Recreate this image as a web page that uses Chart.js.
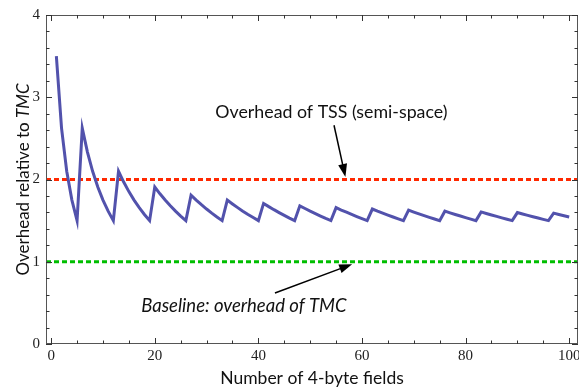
<!DOCTYPE html>
<html>
<head>
<meta charset="utf-8">
<script src="https://cdn.jsdelivr.net/npm/chart.js@4"></script>
<style>
  html, body { margin: 0; padding: 0; background: #fff; }
  #wrap { width: 579px; height: 389px; }
</style>
</head>
<body>
<div id="wrap"><canvas id="overhead-chart" width="579" height="389"></canvas></div>
<script>
// overhead relative to TMC for objects with 1..100 four-byte fields
const overhead = [
    3.5, 2.625, 2.1, 1.75, 1.5,
    2.625, 2.333, 2.1, 1.909, 1.75, 1.615, 1.5,
    2.1, 1.969, 1.853, 1.75, 1.658, 1.575, 1.5,
    1.909, 1.826, 1.75, 1.68, 1.615, 1.556, 1.5,
    1.81, 1.75, 1.694, 1.641, 1.591, 1.544, 1.5,
    1.75, 1.703, 1.658, 1.615, 1.575, 1.537, 1.5,
    1.709, 1.67, 1.633, 1.598, 1.564, 1.531, 1.5,
    1.68, 1.647, 1.615, 1.585, 1.556, 1.527, 1.5,
    1.658, 1.629, 1.602, 1.575, 1.549, 1.524, 1.5,
    1.641, 1.615, 1.591, 1.567, 1.544, 1.522, 1.5,
    1.627, 1.604, 1.582, 1.561, 1.54, 1.52, 1.5,
    1.615, 1.595, 1.575, 1.556, 1.537, 1.518, 1.5,
    1.606, 1.587, 1.569, 1.551, 1.534, 1.517, 1.5,
    1.598, 1.581, 1.564, 1.547, 1.531, 1.515, 1.5,
    1.591, 1.575, 1.559, 1.544
];
const fields = overhead.map((_, i) => i + 1);

const tssOverhead = 2;   // semi-space copying
const baseline = 1;      // TMC itself

const xTicks = [0, 20, 40, 60, 80, 100];
const yTicks = [0, 1, 2, 3, 4];
const xMinorStep = 5;
const yMinorStep = 0.2;

const X_MIN = -1, X_MAX = 101.7;

const sansFont = "Lato, 'Open Sans', sans-serif";
const serifFont = "'Liberation Serif', 'DejaVu Serif', serif";

function arrow(ctx, x1, y1, x2, y2) {
    const ang = Math.atan2(y2 - y1, x2 - x1);
    const len = 13, half = 4.5;
    ctx.beginPath();
    ctx.moveTo(x1, y1);
    ctx.lineTo(x2 - Math.cos(ang) * len * 0.8, y2 - Math.sin(ang) * len * 0.8);
    ctx.stroke();
    ctx.beginPath();
    ctx.moveTo(x2, y2);
    ctx.lineTo(x2 - Math.cos(ang) * len + Math.sin(ang) * half, y2 - Math.sin(ang) * len - Math.cos(ang) * half);
    ctx.lineTo(x2 - Math.cos(ang) * len - Math.sin(ang) * half, y2 - Math.sin(ang) * len + Math.cos(ang) * half);
    ctx.closePath();
    ctx.fill();
}

// frame with inward ticks on all four sides, axis titles and the two callouts
const framePlugin = {
    id: 'frame',
    afterDraw(chart) {
        const { ctx, chartArea: a, scales: { x, y } } = chart;
        ctx.save();

        ctx.strokeStyle = '#555';
        ctx.lineWidth = 1;
        ctx.strokeRect(a.left + 0.5, a.top + 0.5, a.right - a.left - 1, a.bottom - a.top - 1);

        ctx.strokeStyle = '#333';
        ctx.beginPath();
        for (let v = 0; v <= 100 + 1e-6; v += xMinorStep) {
            const px = Math.round(x.getPixelForValue(v)) + 0.5;
            const len = xTicks.includes(v) ? 6 : 3.5;
            ctx.moveTo(px, a.bottom); ctx.lineTo(px, a.bottom - len);
            ctx.moveTo(px, a.top); ctx.lineTo(px, a.top + len);
        }
        for (let i = 0; i <= 20; i++) {
            const v = i * yMinorStep;
            const py = Math.round(y.getPixelForValue(v)) + 0.5;
            const len = i % 5 === 0 ? 6 : 3.5;
            ctx.moveTo(a.left, py); ctx.lineTo(a.left + len, py);
            ctx.moveTo(a.right, py); ctx.lineTo(a.right - len, py);
        }
        ctx.stroke();

        ctx.fillStyle = '#111';
        ctx.textBaseline = 'alphabetic';

        // x title
        ctx.font = `17.5px ${sansFont}`;
        ctx.textAlign = 'center';
        ctx.fillText('Number of 4-byte fields', (a.left + a.right) / 2, 384);

        // y title, with TMC in italics
        ctx.save();
        ctx.translate(29, (a.top + a.bottom) / 2);
        ctx.rotate(-Math.PI / 2);
        ctx.textAlign = 'left';
        const part1 = 'Overhead relative to ';
        ctx.font = `17px ${sansFont}`;
        const w1 = ctx.measureText(part1).width;
        ctx.font = `italic 17px ${sansFont}`;
        const w2 = ctx.measureText('TMC').width;
        const start = -(w1 + w2) / 2;
        ctx.font = `17px ${sansFont}`;
        ctx.fillText(part1, start, 0);
        ctx.font = `italic 17px ${sansFont}`;
        ctx.fillText('TMC', start + w1, 0);
        ctx.restore();

        // callouts
        ctx.textAlign = 'center';
        ctx.font = `17.8px ${sansFont}`;
        ctx.fillText('Overhead of TSS (semi-space)', x.getPixelForValue(54.1), y.getPixelForValue(2.75));
        ctx.font = `italic 18.5px ${sansFont}`;
        ctx.fillText('Baseline: overhead of TMC', x.getPixelForValue(37.2), y.getPixelForValue(0.39));

        ctx.strokeStyle = '#000';
        ctx.fillStyle = '#000';
        ctx.lineWidth = 1.5;
        arrow(ctx, x.getPixelForValue(54.6), y.getPixelForValue(2.66),
                   x.getPixelForValue(56.8), y.getPixelForValue(2.03));
        arrow(ctx, x.getPixelForValue(43.2), y.getPixelForValue(0.62),
                   x.getPixelForValue(58.1), y.getPixelForValue(0.97));

        ctx.restore();
    }
};

const ctx = document.getElementById('overhead-chart').getContext('2d');
new Chart(ctx, {
    type: 'line',
    data: {
        datasets: [
            {
                label: 'TSS overhead vs TMC',
                data: fields.map((f, i) => ({ x: f, y: overhead[i] })),
                borderColor: 'rgb(82, 82, 172)',
                borderWidth: 3,
                pointRadius: 0,
                tension: 0
            },
            {
                label: 'Overhead of TSS (semi-space)',
                data: [{ x: X_MIN, y: tssOverhead }, { x: X_MAX, y: tssOverhead }],
                borderColor: 'rgb(255, 40, 0)',
                borderWidth: 3,
                borderDash: [5, 3],
                pointRadius: 0
            },
            {
                label: 'Baseline: overhead of TMC',
                data: [{ x: X_MIN, y: baseline }, { x: X_MAX, y: baseline }],
                borderColor: 'rgb(0, 190, 0)',
                borderWidth: 3,
                borderDash: [5, 3],
                pointRadius: 0
            }
        ]
    },
    options: {
        responsive: false,
        animation: false,
        layout: { padding: { left: 0, top: 15, right: 1, bottom: 0 } },
        plugins: {
            legend: { display: false },
            tooltip: { enabled: false }
        },
        scales: {
            x: {
                type: 'linear',
                min: X_MIN,
                max: X_MAX,
                grid: { display: false, drawTicks: false },
                border: { display: false },
                afterBuildTicks: scale => { scale.ticks = xTicks.map(v => ({ value: v })); },
                afterFit: scale => {
                    scale.height = 45;
                    scale.paddingLeft = 0;
                    scale.paddingRight = 0;
                },
                ticks: {
                    autoSkip: false,
                    maxRotation: 0,
                    padding: 3,
                    color: '#222',
                    font: { family: serifFont, size: 15 }
                }
            },
            y: {
                type: 'linear',
                min: 0,
                max: 4,
                grid: { display: false, drawTicks: false },
                border: { display: false },
                afterBuildTicks: scale => { scale.ticks = yTicks.map(v => ({ value: v })); },
                afterFit: scale => {
                    scale.width = 46;
                    scale.paddingTop = 0;
                    scale.paddingBottom = 0;
                },
                ticks: {
                    padding: 6,
                    color: '#222',
                    font: { family: serifFont, size: 15 }
                }
            }
        }
    },
    plugins: [framePlugin]
});
</script>
</body>
</html>
